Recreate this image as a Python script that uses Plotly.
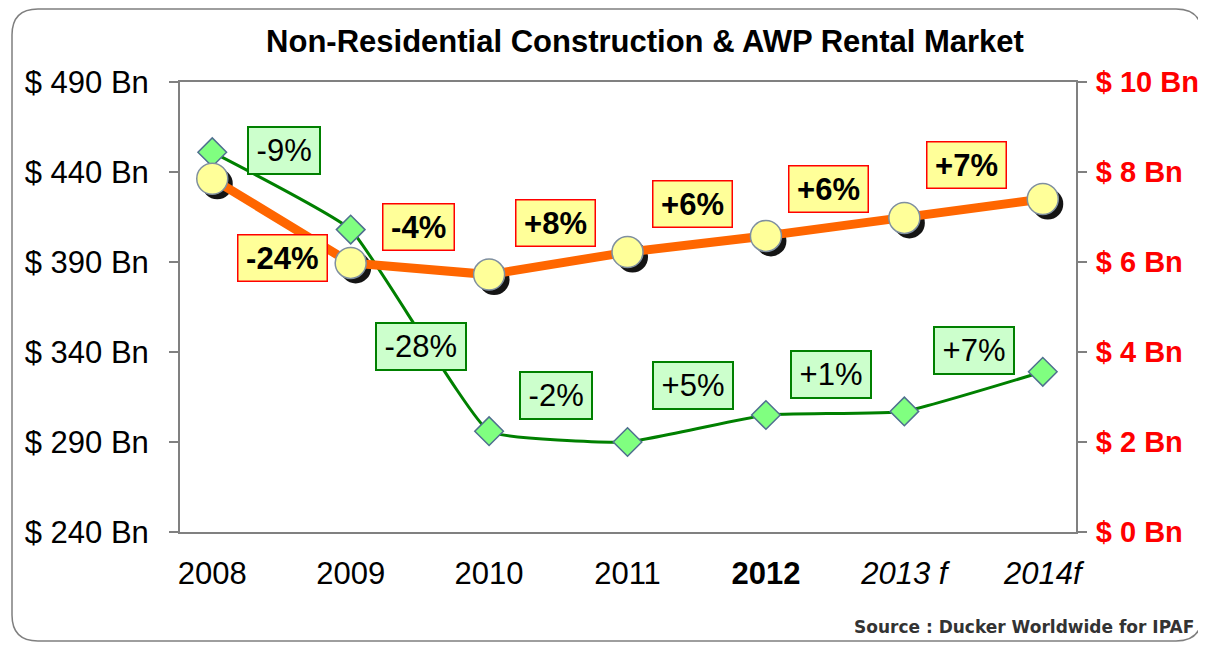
import plotly.graph_objects as go

# ---------------- data ----------------
years = ["2008", "2009", "2010", "2011", "2012", "2013 f", "2014f"]
year_labels = ["2008", "2009", "2010", "2011", "<b>2012</b>", "<i>2013 f</i>", "<i>2014f</i>"]
construction_bn = [451, 408, 296, 290, 305, 307, 329]          # left axis, $ Bn
awp_rental_bn = [7.85, 5.98, 5.72, 6.22, 6.58, 6.98, 7.40]     # right axis, $ Bn
construction_growth = ["-9%", "-28%", "-2%", "+5%", "+1%", "+7%"]
awp_growth = ["-24%", "-4%", "+8%", "+6%", "+6%", "+7%"]
left_ticks = [240, 290, 340, 390, 440, 490]
left_tick_text = ["$ 240 Bn", "$ 290 Bn", "$ 340 Bn", "$ 390 Bn", "$ 440 Bn", "$ 490 Bn"]
right_ticks = [0, 2, 4, 6, 8, 10]
right_tick_text = ["$ 0 Bn", "$ 2 Bn", "$ 4 Bn", "$ 6 Bn", "$ 8 Bn", "$ 10 Bn"]

# label anchor positions (x in category index units, y in axis units)
construction_label_pos = [(0.52, 450.5), (1.51, 341.4), (2.48, 314.3), (3.47, 320.0), (4.47, 325.6), (5.50, 339.2)]
awp_label_pos = [(0.51, 6.02), (1.49, 6.72), (2.48, 6.81), (3.47, 7.22), (4.45, 7.56), (5.45, 8.08)]

# ---------------- layout geometry ----------------
OFF = 8                      # default page body margin
W, H = 1206 - OFF, 645 - OFF
ML, MR, MT, MB = 180 - OFF, 1206 - 1068 - OFF, 82 - OFF, 645 - 524 - OFF
PW, PH = W - ML - MR, H - MT - MB
X_RANGE = [-0.233, 6.24]
Y_LEFT = [240, 490]
Y_RIGHT = [0, 10]
SHADOW_PX = 5
dx = SHADOW_PX * (X_RANGE[1] - X_RANGE[0]) / PW
dy = SHADOW_PX * (Y_RIGHT[1] - Y_RIGHT[0]) / PH

FONT = "Liberation Sans, Arial, sans-serif"
AXIS_GRAY = "#808080"
FS = 31
HS = "\u200a"


def px(x):   # page pixel -> paper x
    return (x - OFF - ML) / PW


def py(y):   # page pixel -> paper y
    return (H - MB - (y - OFF)) / PH


xi = list(range(len(years)))
fig = go.Figure()

# shadow of AWP markers (base subplot, shifted axes -> drawn underneath)
fig.add_trace(go.Scatter(
    x=xi, y=awp_rental_bn, xaxis="x", yaxis="y", mode="markers",
    marker=dict(symbol="circle", size=31, color="rgba(0,0,0,0.92)", line=dict(width=0)),
    hoverinfo="skip", showlegend=False))

# AWP rental market (right axis)
fig.add_trace(go.Scatter(
    x=xi, y=awp_rental_bn, xaxis="x2", yaxis="y3", mode="lines+markers",
    line=dict(color="#FF6600", width=9),
    marker=dict(symbol="circle", size=31, color="#FFFF99", line=dict(color="#7F8FA0", width=1.5)),
    name="AWP Rental Market", showlegend=False))

# Non-residential construction (left axis)
fig.add_trace(go.Scatter(
    x=xi, y=construction_bn, xaxis="x2", yaxis="y2", mode="lines+markers",
    line=dict(color="#008000", width=3, shape="spline", smoothing=0.35),
    marker=dict(symbol="diamond", size=22, color="#80FF80", line=dict(color="#4F6F8F", width=1.5)),
    name="Non-Residential Construction", showlegend=False))

annotations = []
for (ax, ay), txt in zip(construction_label_pos, construction_growth):
    annotations.append(dict(
        x=ax, y=ay, xref="x2", yref="y2", text=HS + txt + HS, showarrow=False, yshift=3,
        font=dict(family=FONT, size=FS, color="black"),
        bgcolor="#CCFFCC", bordercolor="#008000", borderwidth=2, borderpad=5))
for (ax, ay), txt in zip(awp_label_pos, awp_growth):
    annotations.append(dict(
        x=ax, y=ay, xref="x2", yref="y3", text="<b>" + HS + txt + HS + "</b>", showarrow=False,
        yshift=3,
        font=dict(family=FONT, size=FS, color="black"),
        bgcolor="#FFFF99", bordercolor="#FF0000", borderwidth=1.5, borderpad=5))

annotations.append(dict(
    x=px(1196), y=py(627), xref="paper", yref="paper",
    text="<b>Source : Ducker Worldwide for IPAF</b>",
    showarrow=False, xanchor="right", yanchor="middle",
    font=dict(family="DejaVu Sans, sans-serif", size=17, color="#333333")))

# rounded outer frame (page pixels)
x0, x1, y0, y1, r = 12, 1202, 9, 641, 26
path = (f"M {px(x0 + r)} {py(y0)} L {px(x1 - r)} {py(y0)} "
        f"Q {px(x1)} {py(y0)} {px(x1)} {py(y0 + r)} "
        f"L {px(x1)} {py(y1 - r)} Q {px(x1)} {py(y1)} {px(x1 - r)} {py(y1)} "
        f"L {px(x0 + r)} {py(y1)} Q {px(x0)} {py(y1)} {px(x0)} {py(y1 - r)} "
        f"L {px(x0)} {py(y0 + r)} Q {px(x0)} {py(y0)} {px(x0 + r)} {py(y0)} Z")

fig.update_layout(
    width=W, height=H,
    margin=dict(l=ML, r=MR, t=MT, b=MB, pad=0, autoexpand=False),
    paper_bgcolor="white", plot_bgcolor="white",
    font=dict(family=FONT, color="black"),
    title=dict(text="<b>Non-Residential Construction &amp; AWP Rental Market</b>",
               x=(645 - OFF) / W, xanchor="center", y=1 - (41 - OFF) / H, yanchor="middle",
               font=dict(family=FONT, size=FS, color="black")),
    showlegend=False,
    annotations=annotations,
    shapes=[dict(type="path", xref="paper", yref="paper", path=path,
                 line=dict(color="#7F7F7F", width=1.5), layer="below")],
    # base (shadow) axes: shifted, invisible
    xaxis=dict(range=[X_RANGE[0] - dx, X_RANGE[1] - dx], visible=False, fixedrange=True,
               automargin=False),
    yaxis=dict(range=[Y_RIGHT[0] + dy, Y_RIGHT[1] + dy], visible=False, fixedrange=True,
               automargin=False),
    # visible axes
    xaxis2=dict(overlaying="x", range=X_RANGE, tickmode="array", tickvals=xi, ticktext=year_labels,
                showgrid=False, zeroline=False, showline=True, mirror=True, automargin=False,
                linecolor=AXIS_GRAY, linewidth=2, ticks="", ticklabelstandoff=13,
                tickfont=dict(family=FONT, size=FS, color="black"), side="bottom"),
    yaxis2=dict(overlaying="y", side="left", range=Y_LEFT, tickmode="array",
                tickvals=left_ticks, ticktext=left_tick_text, automargin=False,
                showgrid=False, zeroline=False, showline=True, linecolor=AXIS_GRAY, linewidth=2,
                ticks="outside", ticklen=9, tickcolor=AXIS_GRAY, tickwidth=2,
                ticklabelstandoff=14,
                tickfont=dict(family=FONT, size=FS, color="black")),
    yaxis3=dict(overlaying="y", side="right", range=Y_RIGHT, tickmode="array",
                tickvals=right_ticks, ticktext=["<b>" + t + "</b>" for t in right_tick_text],
                automargin=False,
                showgrid=False, zeroline=False, showline=True, linecolor=AXIS_GRAY, linewidth=2,
                ticks="outside", ticklen=9, tickcolor=AXIS_GRAY, tickwidth=2,
                ticklabelstandoff=3,
                tickfont=dict(family=FONT, size=29, color="#FF0000")),
)

fig.write_html("out.html")
